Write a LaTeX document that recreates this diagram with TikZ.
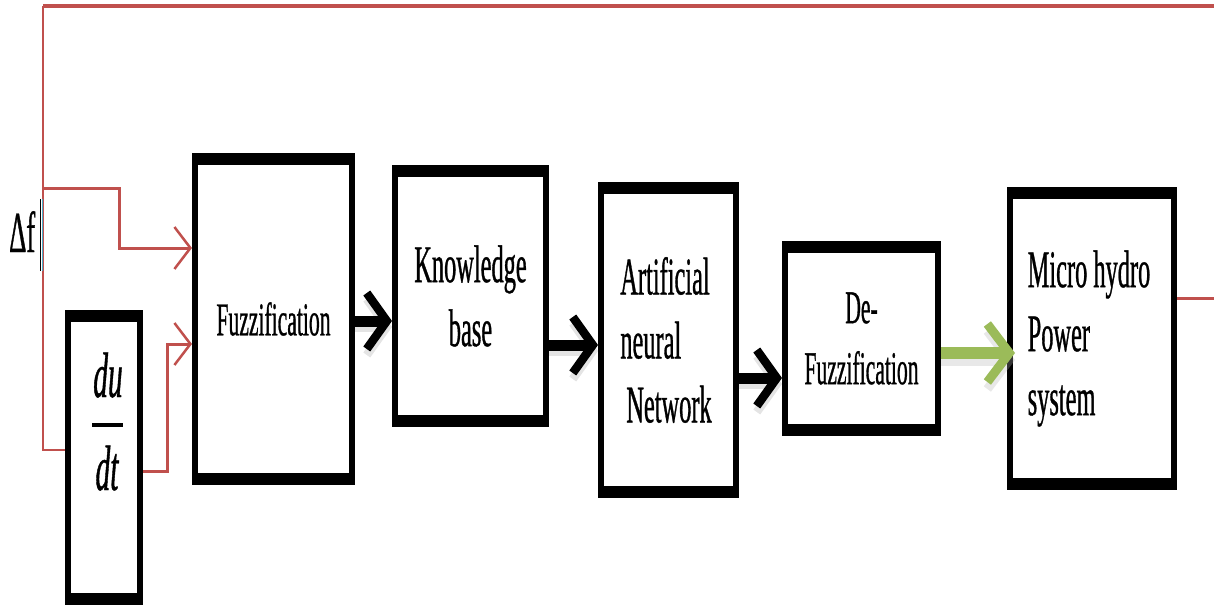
\documentclass[tikz,border=0pt]{standalone}
\usepackage{fontspec}
\setmainfont{Liberation Serif}
\newfontfamily\narrow[FakeStretch=0.46,FakeBold=0.6]{Liberation Serif}
\usetikzlibrary{arrows.meta}

\definecolor{fbred}{HTML}{C0504D}
\definecolor{okgreen}{HTML}{9BBB59}
\definecolor{caret}{HTML}{4BACC6}

\newcommand\bodyfont{\narrow\fontsize{53}{64}\selectfont}
\newcommand\fuzzfont{\narrow\fontsize{47}{61}\selectfont}
\newcommand\fracfont{\narrow\itshape\fontsize{64}{70}\selectfont}

\begin{document}
\begin{tikzpicture}[x=1pt,y=-1pt,
  blockbox/.style={draw=black, fill=white, line width=6pt, inner sep=0pt,
    outer sep=3pt, font=\bodyfont},
  bigarrow/.style={line width=11pt,
    -{Straight Barb[length=20pt,width=56pt,line width'=8.5pt]},
    preaction={draw=black!30, opacity=.35, line width=10pt,
      transform canvas={yshift=-6pt}}},
  greenarrow/.style={okgreen, line width=12pt,
    -{Straight Barb[length=22pt,width=58pt,line width'=9pt]},
    preaction={draw=black!30, opacity=.3, line width=12pt,
      transform canvas={yshift=-7pt}}},
  sigline/.style={fbred, line width=3pt},
  sigarrow/.style={sigline,
    -{Straight Barb[length=16pt,width=42pt,line width'=2.5pt]}},
]
\useasboundingbox (0,0) rectangle (1214,607);

% processing blocks
\node[blockbox, minimum width=72pt,  minimum height=289pt] (du)  at (104,457.5) {};
\node[blockbox, minimum width=157pt, minimum height=326pt, font=\fuzzfont] (fz)  at (273.5,319) {Fuzzification};
\node[blockbox, minimum width=151pt, minimum height=256pt, align=center] (kb)  at (470.5,296) {Knowledge\\base};
\node[blockbox, minimum width=135pt, minimum height=310pt, align=left] (ann) at (668.5,340) {Artificial\\neural\\\hspace*{6pt}Network\hspace*{5pt}};
\node[blockbox, minimum width=153pt, minimum height=189pt, align=center, font=\fuzzfont] (dfz) at (861.5,338.5) {De-\\Fuzzification};
\node[blockbox, minimum width=164pt, minimum height=297pt, align=left] (mh)  at (1092,338.5) {Micro hydro\hspace*{6pt}\\Power\\system};

% heavier top and bottom edges of every block
\foreach \n in {du,fz,kb,ann,dfz,mh}{
  \draw[line width=6pt] ([yshift=-9pt]\n.north west) -- ([yshift=-9pt]\n.north east);
  \draw[line width=6pt] ([yshift=9pt]\n.south west) -- ([yshift=9pt]\n.south east);
}

% derivative block contents
\node[inner sep=0pt, anchor=base, font=\fracfont] (num) at (108,397) {du};
\node[inner sep=0pt, anchor=base, font=\fracfont] (den) at (107,490) {dt};
\draw[line width=4pt] (num.south west |- 0,425) ++(-1,0) -- (num.south east |- 0,425);

% input label
\node[inner sep=0pt, anchor=base west, font=\narrow\fontsize{58}{64}\selectfont] (df) at (9,252) {Δf};

% feedback signal and its branches
\coordinate (fbtop) at (43,6);
\coordinate (fbright) at (1214,6);
\draw[fbred, line width=4pt] (fbright) -- (fbtop);
\draw[sigline, line width=2pt] (fbtop) -- (43,450) -- (du.west |- 0,450);
\draw[sigarrow] (43,188) -- (119,188) -- (119,248) -- (fz.west |- 0,248);
\draw[sigarrow] (du.east |- 0,471) -- (167,471) -- (167,344) -- (fz.west |- 0,344);
\coordinate (out) at (1214,298);
\draw[sigline] (mh.east |- 0,298) -- (out);

% text caret beside the label
\draw[black, line width=1.5pt] (40.3,199) -- (40.3,271);
\draw[caret, line width=1.5pt] (42.3,199) -- (42.3,271);

% forward path
\draw[bigarrow] (fz.east |- 0,321) -- (kb.west |- 0,321);
\draw[bigarrow] (kb.east |- 0,345) -- (ann.west |- 0,345);
\draw[bigarrow] (ann.east |- 0,378) -- (dfz.west |- 0,378);
\draw[greenarrow] (dfz.east |- 0,353) -- ([xshift=8pt]mh.west |- 0,353);
\end{tikzpicture}
\end{document}
